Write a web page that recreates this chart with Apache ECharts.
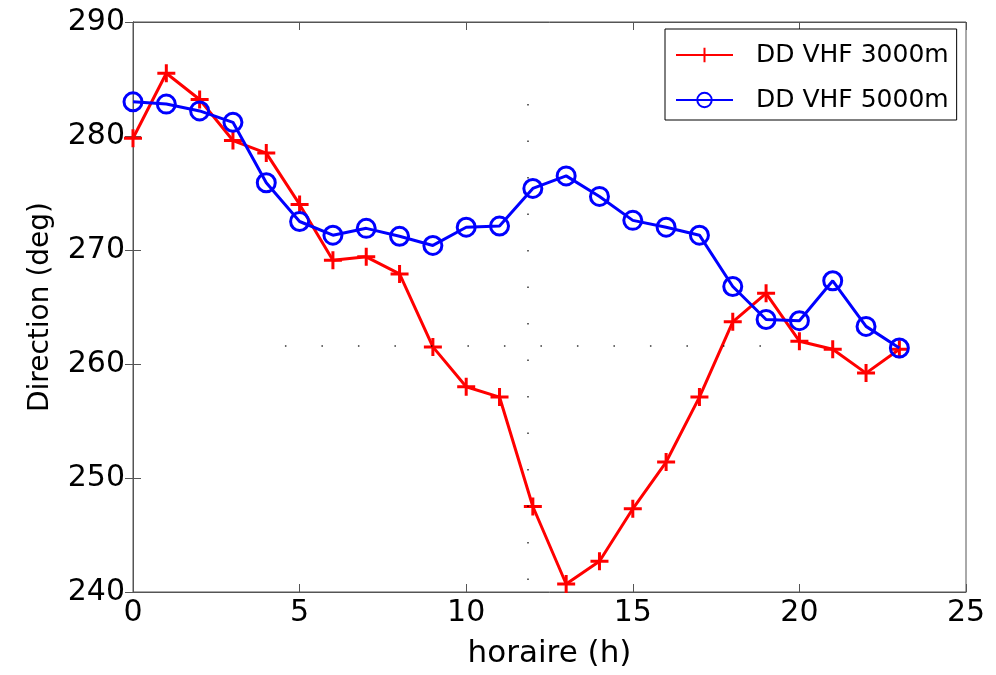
<!DOCTYPE html>
<html>
<head>
<meta charset="utf-8">
<script src="https://cdn.jsdelivr.net/npm/echarts@6/dist/echarts.min.js"></script>
<style>html,body{margin:0;padding:0;background:#fff}#c{width:996px;height:675px}</style>
</head>
<body>
<div id="c"></div>
<script>
const hours = [0,1,2,3,4,5,6,7,8,9,10,11,12,13,14,15,16,17,18,19,20,21,22,23];
const dd3000 = [279.8,285.5,283.2,279.6,278.5,274.0,269.1,269.4,267.9,261.5,258.0,257.1,247.5,240.7,242.7,247.3,251.4,257.1,263.7,266.2,262.0,261.3,259.2,261.3];
const dd5000 = [283.0,282.8,282.2,281.2,275.9,272.5,271.3,271.9,271.2,270.4,272.0,272.1,275.4,276.5,274.7,272.6,272.0,271.3,266.8,263.9,263.8,267.3,263.3,261.4];
const xTicks = [0,5,10,15,20,25];
const yTicks = [240,250,260,270,280,290];
const seriesNames = ['DD VHF 3000m','DD VHF 5000m'];
const dottedV = [[11.85,282.8],[11.85,240.2]];
const dottedH = [[4.56,261.6],[18.9,261.6]];

const FONT = 'DejaVu Sans';
const axisCol = '#555';
const chart = echarts.init(document.getElementById('c'));
const pair = a => a.map((v,i)=>[hours[i],v]);
const plus = 'path://M5,0L5,10M0,5L10,5';

chart.setOption({
  animation:false,
  backgroundColor:'#fff',
  textStyle:{fontFamily:FONT},
  grid:{left:133,right:30,top:22,bottom:83,show:true,borderColor:axisCol,borderWidth:1},
  legend:{
    left:665, top:29, orient:'vertical',
    backgroundColor:'#fff', borderColor:'#000', borderWidth:1,
    padding:[13,8,7,10], itemWidth:57, itemHeight:18, itemGap:19,
    textStyle:{fontFamily:FONT,fontSize:25,color:'#000',lineHeight:26,padding:[0,0,0,18]},
    data:seriesNames
  },
  xAxis:[{
    type:'value', min:xTicks[0], max:xTicks[xTicks.length-1], interval:5,
    name:'horaire (h)', nameLocation:'middle', nameGap:46,
    nameTextStyle:{fontFamily:FONT,fontSize:31,color:'#000'},
    axisLine:{lineStyle:{color:axisCol}},
    axisTick:{inside:true,length:8,lineStyle:{color:axisCol}},
    axisLabel:{fontFamily:FONT,fontSize:30,color:'#000',margin:6},
    splitLine:{show:false}
  },{
    type:'value', position:'top', min:xTicks[0], max:xTicks[xTicks.length-1], interval:5,
    axisLine:{lineStyle:{color:axisCol}},
    axisTick:{inside:true,length:8,lineStyle:{color:axisCol}},
    axisLabel:{show:false}, splitLine:{show:false}
  }],
  yAxis:[{
    type:'value', min:yTicks[0], max:yTicks[yTicks.length-1], interval:10,
    name:'Direction (deg)', nameLocation:'middle', nameGap:78,
    nameTextStyle:{fontFamily:FONT,fontSize:28,color:'#000'},
    axisLine:{show:true,lineStyle:{color:axisCol}},
    axisTick:{show:true,inside:true,length:8,lineStyle:{color:axisCol}},
    axisLabel:{fontFamily:FONT,fontSize:30,color:'#000',margin:8},
    splitLine:{show:false}
  },{
    type:'value', position:'right', min:yTicks[0], max:yTicks[yTicks.length-1], interval:10,
    axisLine:{show:true,lineStyle:{color:axisCol}},
    axisTick:{show:true,inside:true,length:8,lineStyle:{color:axisCol}},
    axisLabel:{show:false}, splitLine:{show:false}
  }],
  series:[{
    name:seriesNames[0], type:'line', data:pair(dd3000),
    color:'#ff0000',
    lineStyle:{color:'#ff0000',width:3},
    symbol:plus, symbolSize:18,
    itemStyle:{color:'#ff0000',borderColor:'#ff0000',borderWidth:3},
    z:3,
    markLine:{
      silent:true, symbol:'none', label:{show:false},
      lineStyle:{color:'#000',type:[1.5,35],width:1.5,opacity:0.8},
      data:[
        [{coord:dottedV[0]},{coord:dottedV[1]}],
        [{coord:dottedH[0]},{coord:dottedH[1]}]
      ]
    }
  },{
    name:seriesNames[1], type:'line', data:pair(dd5000),
    color:'#0000ff',
    lineStyle:{color:'#0000ff',width:3},
    symbol:'circle', symbolSize:18,
    itemStyle:{color:'rgba(255,255,255,0)',borderColor:'#0000ff',borderWidth:3},
    z:4
  }]
});
</script>
</body>
</html>
